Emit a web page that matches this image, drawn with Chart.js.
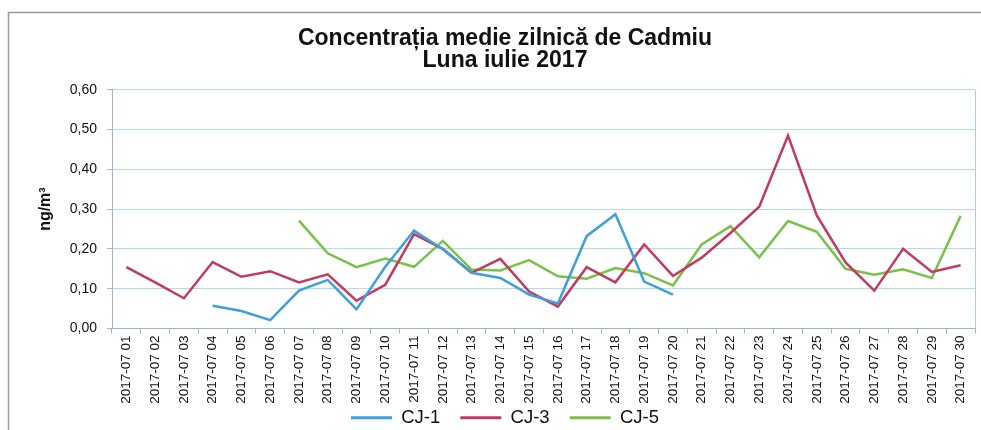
<!DOCTYPE html>
<html>
<head>
<meta charset="utf-8">
<script src="https://cdn.jsdelivr.net/npm/chart.js@4/dist/chart.umd.min.js"></script>
<style>
  html, body { margin: 0; padding: 0; background: #fff; }
  #wrap { width: 981px; height: 430px; position: relative; }
</style>
</head>
<body>
<div id="wrap"><canvas id="cadmiuChart" width="981" height="430"></canvas></div>
<script>
// Daily labels for July 2017
const dayLabels = [
    '2017-07 01', '2017-07 02', '2017-07 03', '2017-07 04', '2017-07 05', '2017-07 06',
    '2017-07 07', '2017-07 08', '2017-07 09', '2017-07 10', '2017-07 11', '2017-07 12',
    '2017-07 13', '2017-07 14', '2017-07 15', '2017-07 16', '2017-07 17', '2017-07 18',
    '2017-07 19', '2017-07 20', '2017-07 21', '2017-07 22', '2017-07 23', '2017-07 24',
    '2017-07 25', '2017-07 26', '2017-07 27', '2017-07 28', '2017-07 29', '2017-07 30'
];

// Station readings (ng/m3), null where no measurement
const cj1Values = [
    null, null, null, 0.057, 0.044, 0.021, 0.095, 0.122, 0.048, 0.155,
    0.246, 0.199, 0.140, 0.127, 0.085, 0.063, 0.232, 0.287, 0.118, 0.085,
    null, null, null, null, null, null, null, null, null, null
];
const cj3Values = [
    0.154, 0.116, 0.076, 0.167, 0.130, 0.144, 0.116, 0.136, 0.070, 0.110,
    0.237, 0.200, 0.140, 0.175, 0.093, 0.055, 0.154, 0.116, 0.211, 0.132,
    0.178, 0.240, 0.306, 0.485, 0.284, 0.166, 0.095, 0.200, 0.142, 0.159
];
const cj5Values = [
    null, null, null, null, null, null, 0.271, 0.189, 0.154, 0.176,
    0.155, 0.220, 0.148, 0.146, 0.172, 0.131, 0.125, 0.152, 0.139, 0.108,
    0.211, 0.257, 0.179, 0.270, 0.243, 0.150, 0.135, 0.149, 0.127, 0.283
];

const yTicks = [0, 0.1, 0.2, 0.3, 0.4, 0.5, 0.6];

const FONT = "'Liberation Sans', Arial, sans-serif";

// Frame around the chart object and right edge of plot area
const framePlugin = {
    id: 'frame',
    beforeDraw(chart) {
        const ctx = chart.ctx;
        ctx.save();
        ctx.fillStyle = '#ffffff';
        ctx.fillRect(0, 0, chart.width, chart.height);
        ctx.strokeStyle = '#9a9a9a';
        ctx.lineWidth = 1.5;
        ctx.beginPath();
        ctx.moveTo(8.5, chart.height);
        ctx.lineTo(8.5, 12.5);
        ctx.lineTo(chart.width, 12.5);
        ctx.stroke();
        ctx.restore();
    },
    afterDatasetsDraw(chart) {
        const { ctx, chartArea } = chart;
        ctx.save();
        ctx.strokeStyle = '#a9cfe6';
        ctx.lineWidth = 1;
        ctx.beginPath();
        ctx.moveTo(Math.round(chartArea.right) + 0.5, chartArea.top);
        ctx.lineTo(Math.round(chartArea.right) + 0.5, chartArea.bottom);
        ctx.stroke();
        ctx.restore();
    }
};

function makeSeries(label, data, color) {
    return {
        label: label,
        data: data,
        borderColor: color,
        backgroundColor: color,
        borderWidth: 2.5,
        pointRadius: 0,
        pointHoverRadius: 0,
        tension: 0,
        spanGaps: false
    };
}

const ctx = document.getElementById('cadmiuChart').getContext('2d');
new Chart(ctx, {
    type: 'line',
    data: {
        labels: dayLabels,
        datasets: [
            makeSeries('CJ-1', cj1Values, '#3d9fdc'),
            makeSeries('CJ-3', cj3Values, '#c23a62'),
            makeSeries('CJ-5', cj5Values, '#78c24a')
        ]
    },
    options: {
        responsive: false,
        animation: false,
        devicePixelRatio: 1,
        layout: { padding: { left: 35, right: 6, top: 0, bottom: -7 } },
        plugins: {
            title: {
                display: true,
                text: ['Concentrația medie zilnică de Cadmiu', 'Luna iulie 2017'],
                color: '#111',
                font: { family: FONT, size: 23, weight: 'bold', lineHeight: 0.95 },
                padding: { top: 28, bottom: 18 }
            },
            legend: {
                position: 'bottom',
                labels: {
                    color: '#111',
                    font: { family: FONT, size: 18.5 },
                    boxWidth: 41,
                    boxHeight: 3,
                    padding: 0,
                    // gap between items comes from trailing spaces on all but the last one
                    generateLabels(chart) {
                        const items = Chart.defaults.plugins.legend.labels.generateLabels(chart);
                        return items.map((item, i) => ({
                            ...item,
                            lineWidth: 0,
                            text: i < items.length - 1 ? item.text + '\u2003\u200A' : item.text
                        }));
                    }
                }
            },
            tooltip: { enabled: false }
        },
        scales: {
            x: {
                offset: true,
                afterFit(scale) { scale.height = 80; },
                grid: {
                    offset: true,
                    drawOnChartArea: false,
                    color: '#9fb4cf',
                    tickLength: 5
                },
                border: { color: '#9fb4cf', width: 1 },
                ticks: {
                    color: '#111',
                    font: { family: FONT, size: 13.5 },
                    maxRotation: 90,
                    minRotation: 90,
                    autoSkip: false,
                    padding: 2
                }
            },
            y: {
                min: 0,
                max: 0.6,
                afterFit(scale) { scale.width = 77; },
                afterBuildTicks(scale) { scale.ticks = yTicks.map(v => ({ value: v })); },
                grid: {
                    color: '#b3daef',
                    lineWidth: 1,
                    tickLength: 5,
                    tickColor: '#9fb4cf'
                },
                border: { color: '#9fb4cf', width: 1 },
                ticks: {
                    color: '#111',
                    font: { family: FONT, size: 14 },
                    padding: 10,
                    callback: v => v.toFixed(2).replace('.', ',')
                },
                title: {
                    display: true,
                    text: 'ng/m³',
                    color: '#111',
                    font: { family: FONT, size: 16, weight: 'bold' },
                    padding: { top: 1, bottom: 4 }
                }
            }
        }
    },
    plugins: [framePlugin]
});
</script>
</body>
</html>
